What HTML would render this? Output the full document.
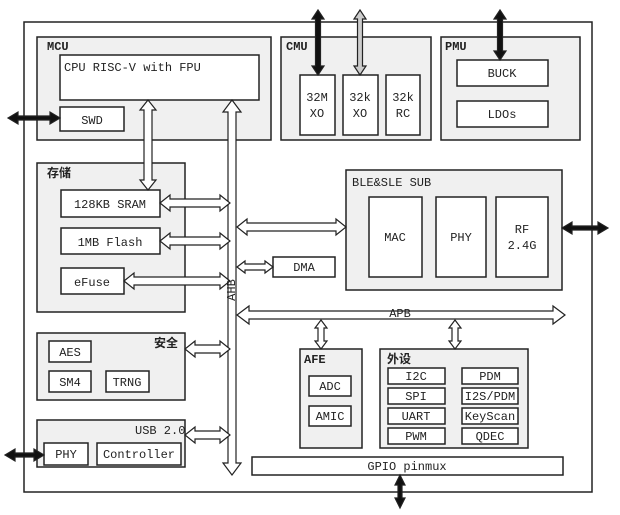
<!DOCTYPE html><html><head><meta charset="utf-8"><style>body{margin:0;background:#fff}svg{display:block}text{font-family:"Liberation Mono","Noto Sans CJK SC",monospace;font-size:12px;fill:#222}</style></head><body>
<svg id="s" width="620" height="515" xmlns="http://www.w3.org/2000/svg">
<g fill="#fff" stroke="#222" stroke-width="1.5">
<rect x="24" y="22" width="568" height="470"/>
<rect x="37" y="37" width="234" height="103" fill="#f0f0f0"/>
<rect x="281" y="37" width="150" height="103" fill="#f0f0f0"/>
<rect x="441" y="37" width="139" height="103" fill="#f0f0f0"/>
<rect x="37" y="163" width="148" height="149" fill="#f0f0f0"/>
<rect x="346" y="170" width="216" height="120" fill="#f0f0f0"/>
<rect x="37" y="333" width="148" height="67" fill="#f0f0f0"/>
<rect x="37" y="420" width="148" height="47" fill="#f0f0f0"/>
<rect x="300" y="349" width="62" height="99" fill="#f0f0f0"/>
<rect x="380" y="349" width="148" height="99" fill="#f0f0f0"/>
<rect x="60" y="55" width="199" height="45"/>
<rect x="60" y="107" width="64" height="24"/>
<rect x="300" y="75" width="35" height="60"/><rect x="343" y="75" width="35" height="60"/><rect x="386" y="75" width="34" height="60"/>
<rect x="457" y="60" width="91" height="26"/><rect x="457" y="101" width="91" height="26"/>
<rect x="61" y="190" width="99" height="27"/><rect x="61" y="228" width="99" height="26"/><rect x="61" y="268" width="63" height="26"/>
<rect x="369" y="197" width="53" height="80"/><rect x="436" y="197" width="50" height="80"/><rect x="496" y="197" width="52" height="80"/>
<rect x="273" y="257" width="62" height="20"/>
<rect x="309" y="376" width="42" height="20"/><rect x="309" y="406" width="42" height="20"/>
<rect x="388" y="368" width="57" height="16"/><rect x="462" y="368" width="56" height="16"/>
<rect x="388" y="388" width="57" height="16"/><rect x="462" y="388" width="56" height="16"/>
<rect x="388" y="408" width="57" height="16"/><rect x="462" y="408" width="56" height="16"/>
<rect x="388" y="428" width="57" height="16"/><rect x="462" y="428" width="56" height="16"/>
<rect x="49" y="341" width="42" height="21"/><rect x="49" y="371" width="42" height="21"/><rect x="106" y="371" width="43" height="21"/>
<rect x="44" y="443" width="44" height="22"/><rect x="97" y="443" width="84" height="22"/>
<rect x="252" y="457" width="311" height="18"/>
</g>
<g id="arr" fill="#fff" stroke="#222" stroke-width="1.2"></g>
<g>
<text x="47" y="50" font-weight="bold">MCU</text>
<text x="64" y="71">CPU RISC-V with FPU</text>
<text x="92" y="124" text-anchor="middle">SWD</text>
<text x="286" y="50" font-weight="bold">CMU</text>
<text x="445" y="50" font-weight="bold">PMU</text>
<text x="317" y="101" text-anchor="middle">32M</text><text x="317" y="117" text-anchor="middle">XO</text>
<text x="360" y="101" text-anchor="middle">32k</text><text x="360" y="117" text-anchor="middle">XO</text>
<text x="403" y="101" text-anchor="middle">32k</text><text x="403" y="117" text-anchor="middle">RC</text>
<text x="502" y="77" text-anchor="middle">BUCK</text><text x="502" y="118" text-anchor="middle">LDOs</text>
<text x="47" y="177" font-weight="bold">存储</text>
<text x="110" y="208" text-anchor="middle">128KB SRAM</text>
<text x="110" y="246" text-anchor="middle">1MB Flash</text>
<text x="92" y="286" text-anchor="middle">eFuse</text>
<text x="352" y="186">BLE&amp;SLE SUB</text>
<text x="395" y="241" text-anchor="middle">MAC</text><text x="461" y="241" text-anchor="middle">PHY</text>
<text x="522" y="233" text-anchor="middle">RF</text><text x="522" y="249" text-anchor="middle">2.4G</text>
<text x="304" y="271" text-anchor="middle">DMA</text>
<text x="400" y="317" text-anchor="middle" font-size="8">APB</text>
<text x="235" y="290" font-size="8" transform="rotate(-90 235 290)" text-anchor="middle">AHB</text>
<text x="154" y="347" font-weight="bold">安全</text>
<text x="70" y="356" text-anchor="middle">AES</text><text x="70" y="386" text-anchor="middle">SM4</text><text x="127" y="386" text-anchor="middle">TRNG</text>
<text x="135" y="434">USB 2.0</text>
<text x="66" y="458" text-anchor="middle">PHY</text><text x="139" y="458" text-anchor="middle">Controller</text>
<text x="304" y="363" font-weight="bold">AFE</text>
<text x="330" y="390" text-anchor="middle">ADC</text><text x="330" y="420" text-anchor="middle">AMIC</text>
<text x="387" y="363" font-weight="bold">外设</text>
<text x="416" y="380" text-anchor="middle">I2C</text><text x="490" y="380" text-anchor="middle">PDM</text>
<text x="416" y="400" text-anchor="middle">SPI</text><text x="490" y="400" text-anchor="middle">I2S/PDM</text>
<text x="416" y="420" text-anchor="middle">UART</text><text x="490" y="420" text-anchor="middle">KeyScan</text>
<text x="416" y="440" text-anchor="middle">PWM</text><text x="490" y="440" text-anchor="middle">QDEC</text>
<text x="407" y="470" text-anchor="middle" font-size="9">GPIO pinmux</text>
</g>
</svg>
<script>
var g=document.getElementById('arr'),h='';
function H(x1,x2,y,s,w,L,fill){s=s||4;w=w||8;L=L||10;var p=[[x1,y],[x1+L,y-w],[x1+L,y-s],[x2-L,y-s],[x2-L,y-w],[x2,y],[x2-L,y+w],[x2-L,y+s],[x1+L,y+s],[x1+L,y+w]];h+='<polygon points="'+p.join(' ')+'"'+(fill?' fill="'+fill+'"':'')+'/>';}
function V(x,y1,y2,s,w,L,fill){s=s||4;w=w||8;L=L||10;var p=[[x,y1],[x+w,y1+L],[x+s,y1+L],[x+s,y2-L],[x+w,y2-L],[x,y2],[x-w,y2-L],[x-s,y2-L],[x-s,y1+L],[x-w,y1+L]];h+='<polygon points="'+p.join(' ')+'"'+(fill?' fill="'+fill+'"':'')+'/>';}
V(232,100,475,4,9,12);
H(237,565,315,4,9,12);
V(148,100,190);
H(160,230,203);H(160,230,241);H(124,230,281);H(185,230,349);H(185,230,435);
H(237,346,227);H(237,273,267,3,6,8);
V(321,320,349,3,6,8);V(455,320,349,3,6,8);
V(318,10,75,2.5,6,9,'#111');V(360,10,75,2.5,6,9,'#ccc');V(500,10,60,2.5,6,9,'#111');
H(8,60,118,2,6,10,'#111');H(5,44,455,2,6,10,'#111');H(562,608,228,2,6,10,'#111');
V(400,475,508,2,5,10,'#111');
g.innerHTML=h;
</script>
</body></html>
